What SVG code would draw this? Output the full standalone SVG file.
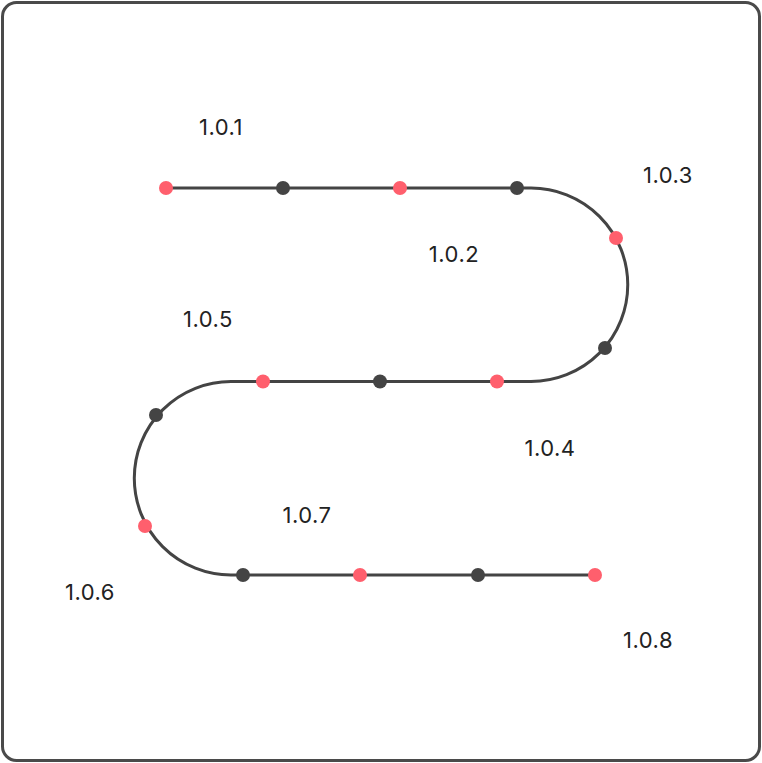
<svg xmlns="http://www.w3.org/2000/svg" width="762" height="763" viewBox="0 0 762 763">
<style>
.lbl{font-family:Inter,"Noto Sans",sans-serif;font-size:22px;letter-spacing:0.5px;fill:#222;text-anchor:middle}
.track{fill:none;stroke:#444;stroke-width:3}
.r{fill:#ff5f6d}
.d{fill:#444}
</style>
<rect x="2.5" y="2.5" width="757" height="758" rx="14" fill="#fff" stroke="#4a4a4a" stroke-width="3"/>
<g id="connectors">
<path class="track" d="M166 188 H531 A96.75 96.75 0 0 1 531 381.5 H231 A96.75 96.75 0 0 0 231 575 H595"/>
</g>
<g id="n1"><circle class="r" cx="166" cy="188" r="7"/><text class="lbl" x="221" y="135">1.0.1</text></g>
<g id="n1b"><circle class="d" cx="283" cy="188" r="7"/></g>
<g id="n2"><circle class="r" cx="400" cy="188" r="7"/><text class="lbl" x="454" y="262">1.0.2</text></g>
<g id="n2b"><circle class="d" cx="517" cy="188" r="7"/></g>
<g id="n3"><circle class="r" cx="616" cy="238" r="7"/><text class="lbl" x="668" y="183">1.0.3</text></g>
<g id="n3b"><circle class="d" cx="605" cy="348" r="7"/></g>
<g id="n4"><circle class="r" cx="497" cy="381.5" r="7"/><text class="lbl" x="550" y="456">1.0.4</text></g>
<g id="n4b"><circle class="d" cx="380" cy="381.5" r="7"/></g>
<g id="n5"><circle class="r" cx="263" cy="381.5" r="7"/><text class="lbl" x="208" y="327">1.0.5</text></g>
<g id="n5b"><circle class="d" cx="156" cy="415" r="7"/></g>
<g id="n6"><circle class="r" cx="145" cy="526" r="7"/><text class="lbl" x="90" y="600">1.0.6</text></g>
<g id="n6b"><circle class="d" cx="243" cy="575" r="7"/></g>
<g id="n7"><circle class="r" cx="360" cy="575" r="7"/><text class="lbl" x="307" y="523">1.0.7</text></g>
<g id="n7b"><circle class="d" cx="478" cy="575" r="7"/></g>
<g id="n8"><circle class="r" cx="595" cy="575" r="7"/><text class="lbl" x="648" y="648">1.0.8</text></g>
</svg>
